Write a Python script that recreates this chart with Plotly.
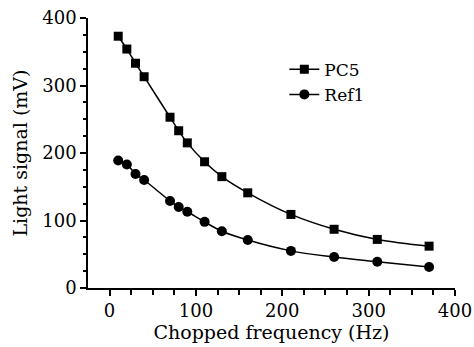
import plotly.graph_objects as go

freq_pc5 = [10, 20, 30, 40, 70, 80, 90, 110, 130, 160, 210, 260, 310, 370]
pc5 = [373, 354, 333, 313, 253, 233, 215, 187, 165, 141, 109, 87, 72, 62]
freq_ref1 = [10, 20, 30, 40, 70, 80, 90, 110, 130, 160, 210, 260, 310, 370]
ref1 = [189, 183, 169, 160, 129, 120, 113, 98, 84, 71, 55, 46, 39, 31]

FONT = "DejaVu Serif"

fig = go.Figure()
fig.add_trace(go.Scatter(
    x=freq_pc5, y=pc5, name="PC5", mode="lines+markers",
    line=dict(color="black", width=1.5, shape="spline"),
    marker=dict(symbol="square", size=9, color="black"),
))
fig.add_trace(go.Scatter(
    x=freq_ref1, y=ref1, name="Ref1", mode="lines+markers",
    line=dict(color="black", width=1.5, shape="spline"),
    marker=dict(symbol="circle", size=10, color="black"),
))

fig.update_layout(
    width=474, height=347,
    margin=dict(l=88, r=19, t=18, b=59),
    paper_bgcolor="white", plot_bgcolor="white",
    font=dict(family=FONT, size=18, color="black"),
    showlegend=True,
    legend=dict(x=0.535, y=0.875, xanchor="left", yanchor="top",
                bgcolor="rgba(0,0,0,0)", font=dict(size=17, family=FONT),
                itemwidth=30, tracegroupgap=0),
    xaxis=dict(
        range=[-25, 400], showgrid=False, zeroline=False, automargin=False,
        showline=True, linecolor="black", linewidth=1.5,
        ticks="outside", tickwidth=1.5, ticklen=6, tickcolor="black",
        tickvals=[0, 100, 200, 300, 400],
        minor=dict(tickvals=[25, 50, 75, 125, 150, 175, 225, 250, 275, 325, 350, 375],
                   ticks="outside", ticklen=5, tickwidth=1.5, tickcolor="black"),
        title=dict(text="Chopped frequency (Hz)", font=dict(size=19, family=FONT), standoff=0),
        tickfont=dict(size=18, family=FONT),
    ),
    yaxis=dict(
        range=[0, 400], showgrid=False, zeroline=False, automargin=False,
        showline=True, linecolor="black", linewidth=1.5,
        ticks="outside", tickwidth=1.5, ticklen=6, tickcolor="black",
        tickvals=[0, 100, 200, 300, 400],
        minor=dict(tickvals=[25, 50, 75, 125, 150, 175, 225, 250, 275, 325, 350, 375],
                   ticks="outside", ticklen=3, tickwidth=1.5, tickcolor="black"),
        title=dict(text="Light signal (mV)", font=dict(size=19, family=FONT), standoff=10),
        tickfont=dict(size=18, family=FONT),
    ),
)

fig.write_html("out.html", config={"displayModeBar": False},
               post_script="document.body.style.margin='0';")
